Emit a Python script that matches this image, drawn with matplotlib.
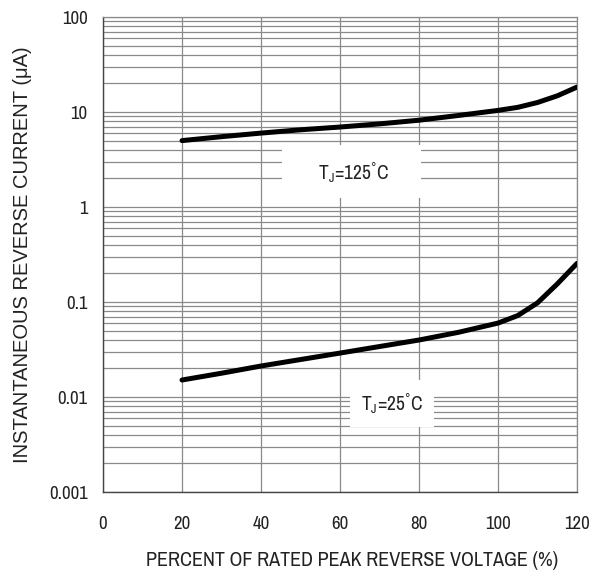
import matplotlib
matplotlib.use("Agg")
import matplotlib.pyplot as plt
from matplotlib import font_manager
from matplotlib.ticker import LogLocator, FixedLocator, NullFormatter

# narrow Arial-like face for ticks and labels, first one that is installed
NARROW_CANDIDATES = ["Liberation Sans Narrow", "Arial Narrow", "Archivo Narrow",
                     "PT Sans Narrow", "Roboto Condensed", "Pragati Narrow"]
installed = {f.name for f in font_manager.fontManager.ttflist}
NARROW = next((n for n in NARROW_CANDIDATES if n in installed), "Liberation Sans")

plt.rcParams["font.family"] = [NARROW, "DejaVu Sans"]
plt.rcParams["mathtext.fontset"] = "custom"
plt.rcParams["mathtext.rm"] = NARROW

# percent of rated peak reverse voltage
voltage_pct = [20, 30, 40, 50, 60, 70, 80, 90, 100, 105, 110, 115, 120]
# instantaneous reverse current (uA)
current_125c = [5.0, 5.5, 6.0, 6.5, 6.95, 7.5, 8.2, 9.2, 10.4, 11.2, 12.6, 14.8, 18.3]
current_25c = [0.0151, 0.0178, 0.0212, 0.0248, 0.029, 0.034, 0.0398, 0.048, 0.060, 0.072, 0.098, 0.155, 0.255]

x_ticks = [0, 20, 40, 60, 80, 100, 120]
y_ticks = [0.001, 0.01, 0.1, 1, 10, 100]
y_tick_labels = ["0.001", "0.01", "0.1", "1", "10", "100"]

GRID = "#8a8a8a"
TEXT = "#222222"

fig = plt.figure(figsize=(6.0, 5.77), dpi=100)
ax = fig.add_axes([0.1717, 0.1473, 0.79, 0.8232])

ax.set_yscale("log")
ax.set_xlim(0, 120)
ax.set_ylim(0.001, 100)

ax.xaxis.set_major_locator(FixedLocator(x_ticks))
ax.yaxis.set_major_locator(FixedLocator(y_ticks))
ax.set_yticklabels(y_tick_labels)
ax.yaxis.set_minor_locator(LogLocator(base=10, subs=range(2, 10), numticks=20))
ax.yaxis.set_minor_formatter(NullFormatter())

ax.grid(which="major", axis="x", color=GRID, linewidth=0.9)
ax.grid(which="both", axis="y", color=GRID, linewidth=0.9)
ax.set_axisbelow(True)

ax.tick_params(which="both", length=0, labelsize=13.5, colors=TEXT)
ax.tick_params(axis="x", pad=17)
ax.tick_params(axis="y", pad=11)

for side in ("top", "right"):
    ax.spines[side].set_color(GRID)
    ax.spines[side].set_linewidth(0.9)
for side in ("left", "bottom"):
    ax.spines[side].set_color("#444444")
    ax.spines[side].set_linewidth(1.0)

ax.plot(voltage_pct, current_125c, color="black", linewidth=3.6,
        solid_capstyle="round", solid_joinstyle="round", zorder=4)
ax.plot(voltage_pct, current_25c, color="black", linewidth=3.6,
        solid_capstyle="round", solid_joinstyle="round", zorder=4)

# white label patches that hide the grid behind them
ax.text(63.0, 2.35, "     T$_\\mathregular{J}$=125$^\\mathregular{°}$C     ", fontsize=14,
        ha="center", va="center", color=TEXT, zorder=3,
        bbox=dict(boxstyle="square,pad=0.7", facecolor="white", edgecolor="none"))
ax.text(73.2, 0.0086, "T$_\\mathregular{J}$=25$^\\mathregular{°}$C", fontsize=14,
        ha="center", va="center", color=TEXT, zorder=3,
        bbox=dict(boxstyle="square,pad=0.55", facecolor="white", edgecolor="none"))

ax.set_xlabel("PERCENT OF RATED PEAK REVERSE VOLTAGE (%)", fontsize=14.5, color=TEXT)
ax.xaxis.set_label_coords(0.525, -0.125)
ax.set_ylabel("INSTANTANEOUS REVERSE CURRENT (\u03bcA)", fontsize=14.5,
              color=TEXT, labelpad=12, family=["Liberation Sans", "DejaVu Sans"])

fig.savefig("out.png", dpi=100)
